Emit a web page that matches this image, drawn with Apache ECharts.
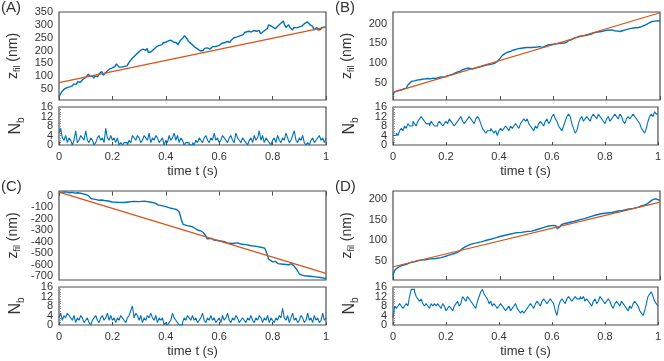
<!DOCTYPE html>
<html>
<head>
<meta charset="utf-8">
<script src="https://cdn.jsdelivr.net/npm/echarts@6/dist/echarts.min.js"></script>
<style>
  html, body { margin: 0; padding: 0; background: #fff; }
  #chart { width: 664px; height: 361px; }
</style>
</head>
<body>
<div id="chart"></div>
<script>
// filament tip position z_fil (nm) over time, per panel
const tA = [0,0.005,0.01,0.015,0.02,0.025,0.03,0.035,0.04,0.045,0.05,0.055,0.06,0.065,0.07,0.075,0.08,0.085,0.09,0.095,0.1,0.105,0.11,0.115,0.12,0.125,0.13,0.135,0.14,0.145,0.15,0.155,0.16,0.165,0.17,0.175,0.18,0.185,0.19,0.195,0.2,0.205,0.21,0.215,0.22,0.225,0.23,0.235,0.24,0.245,0.25,0.255,0.26,0.265,0.27,0.275,0.28,0.285,0.29,0.295,0.3,0.305,0.31,0.315,0.32,0.325,0.33,0.335,0.34,0.345,0.35,0.355,0.36,0.365,0.37,0.375,0.38,0.385,0.39,0.395,0.4,0.41,0.415,0.42,0.425,0.43,0.435,0.44,0.445,0.45,0.455,0.46,0.465,0.47,0.475,0.48,0.485,0.49,0.5,0.505,0.51,0.515,0.52,0.525,0.53,0.535,0.54,0.545,0.55,0.555,0.56,0.565,0.57,0.575,0.58,0.585,0.59,0.6,0.61,0.615,0.62,0.63,0.64,0.645,0.65,0.655,0.66,0.665,0.67,0.68,0.69,0.695,0.7,0.71,0.72,0.73,0.74,0.745,0.75,0.755,0.76,0.77,0.78,0.785,0.79,0.795,0.8,0.81,0.815,0.82,0.825,0.83,0.835,0.84,0.845,0.85,0.855,0.86,0.865,0.87,0.875,0.88,0.885,0.89,0.9,0.905,0.91,0.915,0.92,0.925,0.93,0.935,0.94,0.945,0.95,0.955,0.96,0.965,0.97,0.975,0.98,0.985,0.99,1];
const zA = [20,30,38,45,50,48,55,60,58,65,62,70,72,68,78,80,76,82,88,85,95,100,108,98,96,102,92,100,105,98,108,112,118,104,100,112,120,118,128,130,132,128,138,148,145,135,140,135,142,138,145,140,150,158,162,170,172,180,185,190,195,200,195,205,198,200,208,192,188,195,200,205,210,215,212,220,225,222,230,228,232,238,235,240,236,232,238,230,222,228,240,245,250,258,262,245,235,230,222,218,212,215,205,200,198,205,200,208,205,210,212,205,212,215,208,215,218,220,228,222,230,235,232,240,245,250,255,252,258,258,262,270,268,275,272,278,275,280,278,265,268,278,285,300,305,295,288,285,292,295,290,305,312,315,300,290,295,300,290,285,280,290,285,288,292,298,295,300,305,310,312,305,300,302,295,280,275,290,280,285,282,290,288,292];

const tB = [0,0.005,0.01,0.02,0.03,0.04,0.05,0.055,0.06,0.07,0.08,0.09,0.1,0.11,0.12,0.13,0.14,0.15,0.16,0.17,0.18,0.19,0.2,0.21,0.22,0.23,0.24,0.25,0.26,0.27,0.28,0.29,0.3,0.31,0.32,0.33,0.34,0.35,0.36,0.37,0.38,0.39,0.4,0.41,0.42,0.43,0.44,0.45,0.46,0.47,0.48,0.5,0.52,0.54,0.55,0.56,0.57,0.58,0.6,0.62,0.64,0.65,0.66,0.67,0.68,0.69,0.7,0.72,0.74,0.75,0.76,0.78,0.8,0.82,0.83,0.84,0.85,0.86,0.87,0.88,0.9,0.92,0.93,0.94,0.95,0.96,0.97,0.98,1];
const zB = [20,28,30,32,33,36,38,45,50,55,56,58,59,60,61,62,61,63,62,64,66,65,68,70,72,75,78,80,84,86,88,87,86,88,90,92,94,96,97,98,100,104,112,120,125,128,130,133,135,137,138,140,140,141,142,140,143,146,148,150,151,153,158,160,164,166,168,170,173,176,178,180,183,184,182,181,180,182,184,186,189,190,192,195,198,202,205,206,207];

const tC = [0,0.01,0.02,0.03,0.04,0.05,0.06,0.07,0.08,0.09,0.1,0.11,0.115,0.12,0.13,0.14,0.15,0.16,0.17,0.18,0.2,0.22,0.24,0.26,0.28,0.3,0.32,0.34,0.36,0.37,0.38,0.4,0.42,0.43,0.44,0.45,0.455,0.46,0.465,0.47,0.48,0.5,0.51,0.52,0.53,0.54,0.55,0.555,0.56,0.57,0.58,0.6,0.62,0.63,0.65,0.67,0.68,0.7,0.72,0.74,0.76,0.77,0.775,0.78,0.785,0.79,0.8,0.81,0.82,0.84,0.86,0.87,0.88,0.89,0.9,0.91,0.92,0.94,0.96,0.98,1];
const zC = [30,28,32,30,25,28,22,25,20,15,10,0,-10,-25,-30,-35,-40,-38,-42,-45,-55,-58,-60,-55,-50,-52,-48,-55,-65,-80,-85,-95,-110,-115,-120,-140,-180,-220,-250,-255,-260,-270,-285,-300,-305,-320,-350,-375,-380,-372,-385,-392,-400,-410,-415,-410,-420,-425,-435,-440,-450,-455,-480,-510,-550,-560,-575,-570,-590,-595,-600,-590,-610,-640,-680,-690,-695,-700,-705,-710,-720];

const tD = [0,0.005,0.01,0.02,0.03,0.04,0.05,0.06,0.07,0.08,0.09,0.1,0.12,0.14,0.16,0.18,0.19,0.2,0.21,0.22,0.23,0.24,0.25,0.26,0.27,0.28,0.29,0.3,0.31,0.32,0.33,0.34,0.35,0.37,0.38,0.39,0.4,0.42,0.44,0.46,0.48,0.5,0.52,0.54,0.56,0.58,0.6,0.61,0.615,0.62,0.625,0.63,0.64,0.66,0.68,0.7,0.72,0.74,0.76,0.78,0.8,0.82,0.84,0.86,0.88,0.9,0.92,0.93,0.94,0.95,0.96,0.97,0.98,0.99,1];
const zD = [15,25,30,35,38,40,42,45,47,48,50,52,53,55,56,58,60,62,64,66,68,70,74,80,84,87,90,92,93,95,96,98,100,103,105,107,109,112,115,118,119,121,122,126,130,134,136,135,128,126,132,137,140,143,146,150,153,157,161,164,166,167,170,172,175,177,180,183,185,187,192,197,200,199,196];

// linear fits: value at t=0 and t=1
const fitT = [0, 1];
const fitA = [75, 291];
const fitB = [27, 227];
const fitC = [30, -675];
const fitD = [36, 192];

// number of bound motors N_b, evenly sampled over 0..1 s
const nbA = [5,7,3,2,4,1,3,2,0,2,6,1,2,4,3,2,6,2,1,3,2,0,1,3,4,2,3,1,7,3,2,4,2,3,1,3,0,1,0,1,1,0,2,1,4,3,2,4,3,1,2,4,3,2,5,1,3,2,4,3,1,2,3,0,2,1,4,2,3,5,2,4,1,3,2,0,1,1,0,0,1,0,2,1,3,2,1,3,4,2,1,3,2,5,2,3,1,2,4,3,2,1,3,4,2,1,5,3,2,1,3,2,1,0,2,3,1,4,2,3,6,2,4,1,3,2,1,0,2,3,1,4,2,1,3,2,5,3,1,2,4,6,2,1,3,2,4,1,0,1,0,2,3,1,2,3,4,2,3,1,3];
const nbB = [4,4,5,4,6,7,6,8,7,9,8,8,10,9,8,10,11,12,11,10,9,9,8,10,9,8,8,9,10,9,8,9,10,9,11,10,9,8,9,10,11,12,10,9,10,11,12,11,10,9,11,12,11,9,7,6,5,6,6,7,6,5,6,4,6,7,6,7,8,7,6,8,7,8,9,8,7,9,10,11,10,11,9,8,7,6,8,7,9,10,9,8,10,11,9,10,12,13,11,10,8,7,6,8,10,12,13,12,9,7,5,6,9,11,12,10,11,12,11,10,12,13,12,11,13,12,11,10,9,11,12,10,11,12,13,12,11,13,12,10,9,11,12,11,12,13,12,11,10,9,7,6,5,7,10,12,13,12,14,13,13];
const nbC = [3,5,2,4,3,5,4,3,2,4,1,3,2,4,3,1,2,3,1,0,2,3,4,2,1,3,4,2,3,5,2,4,2,3,1,3,2,4,3,2,1,3,4,6,8,3,5,4,2,4,1,3,2,4,3,5,3,2,4,1,3,2,3,0,1,0,1,2,5,3,2,1,0,0,1,3,2,4,3,2,4,2,3,1,2,3,5,2,1,3,2,4,2,3,1,2,3,1,4,2,3,5,2,1,3,2,4,3,1,2,3,2,1,3,2,4,2,1,3,2,4,3,1,3,2,4,1,3,2,1,3,2,4,3,7,3,2,4,1,3,5,2,3,1,2,4,3,1,2,5,2,3,1,4,2,3,1,2,5,2,3];
const nbD = [3,8,7,8,9,8,7,8,9,8,12,15,15,14,12,11,10,11,9,8,9,8,7,9,8,9,8,9,8,7,9,8,6,7,8,7,6,8,9,10,8,9,12,11,10,12,11,10,9,8,7,10,12,14,15,13,12,11,9,10,8,9,8,7,8,9,8,7,6,7,8,6,7,8,9,7,6,5,6,5,6,7,8,9,8,7,9,10,9,8,10,11,10,9,10,11,10,9,6,4,8,10,11,10,9,11,12,11,10,11,12,11,11,12,11,12,10,11,10,9,8,10,11,9,10,12,11,10,9,10,11,10,8,7,9,10,9,8,10,9,8,7,6,8,7,9,10,9,8,6,5,4,6,9,12,13,14,12,10,9,8];

// tick labels (N_b labels split in two sets so none gets culled)
const timeTicks = [0, 0.2, 0.4, 0.6, 0.8, 1];
const zTicksA = [50, 100, 150, 200, 250, 300, 350];
const zTicksB = [50, 100, 150, 200];
const zTicksC = [0, -100, -200, -300, -400, -500, -600, -700];
const zTicksD = [50, 100, 150, 200];
const nbTicksEven = [0, 8, 16];
const nbTicksOdd = [4, 12];
const nbTickMarks = [0, 1, 2, 3, 4, 5, 6, 7, 8, 9, 10, 11, 12, 13, 14, 15, 16];

const BLUE = '#0072bd';
const ORANGE = '#d95319';
const FRAME = '#4d4d4d';
const TXT = '#333';
const FONT = 'Liberation Sans, Arial, sans-serif';

const panels = [
  { tag: '(A)', x: 59, y: 12, h: 88, t: tA, z: zA, fit: fitA, nb: nbA, zMin: 7, zMax: 350, zTicks: zTicksA },
  { tag: '(B)', x: 393, y: 12, h: 88, t: tB, z: zB, fit: fitB, nb: nbB, zMin: 8, zMax: 229, zTicks: zTicksB },
  { tag: '(C)', x: 59, y: 191, h: 89, t: tC, z: zC, fit: fitC, nb: nbC, zMin: -732, zMax: 40, zTicks: zTicksC },
  { tag: '(D)', x: 393, y: 191, h: 89, t: tD, z: zD, fit: fitD, nb: nbD, zMin: 4, zMax: 219, zTicks: zTicksD }
];

const W = 267;
const grid = [], xAxis = [], yAxis = [], series = [], graphic = [];

const nameRich = {
  m: { fontSize: 14, fontFamily: FONT, color: TXT },
  s: { fontSize: 9, fontFamily: FONT, color: TXT, padding: [9, 0, 0, 0] },
  n: { fontSize: 16, fontFamily: FONT, color: TXT },
  b: { fontSize: 10, fontFamily: FONT, color: TXT, padding: [10, 0, 0, 0] }
};

const labelStyle = { fontSize: 11, color: TXT, fontFamily: FONT, margin: 6, showMinLabel: true, showMaxLabel: true };

panels.forEach((p, k) => {
  const gi = k * 2;
  const nbTop = p.y + p.h + 7;
  grid.push({ left: p.x, top: p.y, width: W, height: p.h, show: true, borderColor: FRAME, borderWidth: 1.2 });
  grid.push({ left: p.x, top: nbTop, width: W, height: 38, show: true, borderColor: FRAME, borderWidth: 1.2 });

  // top: z_fil
  xAxis.push({
    type: 'value', gridIndex: gi, min: 0, max: 1,
    axisLine: { show: false }, axisLabel: { show: false, customValues: timeTicks },
    axisTick: { show: true, inside: true, length: 4, customValues: timeTicks, lineStyle: { color: FRAME } },
    splitLine: { show: false }
  });
  const zIdx = yAxis.length;
  yAxis.push({
    type: 'value', gridIndex: gi, min: p.zMin, max: p.zMax,
    name: '{m|z}{s|fil}{m| (nm)}', nameLocation: 'middle', nameGap: 37,
    nameTextStyle: { rich: nameRich },
    axisLine: { show: false },
    axisTick: { show: false, customValues: p.zTicks },
    axisLabel: Object.assign({ customValues: p.zTicks }, labelStyle),
    splitLine: { show: false }
  });

  // bottom: N_b
  xAxis.push({
    type: 'value', gridIndex: gi + 1, min: 0, max: 1,
    name: 'time t (s)', nameLocation: 'middle', nameGap: 20,
    nameTextStyle: { fontSize: 13, color: TXT, fontFamily: FONT },
    axisLine: { show: false },
    axisTick: { show: true, inside: true, length: 3, customValues: timeTicks, lineStyle: { color: FRAME } },
    axisLabel: Object.assign({ customValues: timeTicks }, labelStyle),
    splitLine: { show: false }
  });
  const nbIdx = yAxis.length;
  yAxis.push({
    type: 'value', gridIndex: gi + 1, min: 0, max: 16,
    name: '{n|N}{b|b}', nameLocation: 'middle', nameGap: 33,
    nameTextStyle: { rich: nameRich },
    axisLine: { show: false },
    axisTick: { show: true, inside: true, length: 2, customValues: nbTickMarks, lineStyle: { color: '#999' } },
    axisLabel: Object.assign({ customValues: nbTicksEven }, labelStyle),
    splitLine: { show: false }
  });
  yAxis.push({
    type: 'value', gridIndex: gi + 1, min: 0, max: 16, position: 'left', offset: 0,
    axisLine: { show: false }, axisTick: { show: false, customValues: nbTicksOdd },
    axisLabel: Object.assign({ customValues: nbTicksOdd }, labelStyle),
    splitLine: { show: false }
  });

  series.push({
    type: 'line', xAxisIndex: gi, yAxisIndex: zIdx, showSymbol: false, animation: false,
    data: p.t.map((t, i) => [t, p.z[i]]),
    lineStyle: { color: BLUE, width: 1.4 }, itemStyle: { color: BLUE }
  });
  series.push({
    type: 'line', xAxisIndex: gi, yAxisIndex: zIdx, showSymbol: false, animation: false,
    data: fitT.map((t, i) => [t, p.fit[i]]),
    lineStyle: { color: ORANGE, width: 1.2 }, itemStyle: { color: ORANGE }
  });
  series.push({
    type: 'line', xAxisIndex: gi + 1, yAxisIndex: nbIdx, showSymbol: false, animation: false,
    step: 'end',
    data: p.nb.map((v, i) => [i / (p.nb.length - 1), v]),
    lineStyle: { color: BLUE, width: 1.1 }, itemStyle: { color: BLUE }
  });

  graphic.push({
    type: 'text', left: p.x - 58, top: p.y - 12,
    style: { text: p.tag, fontSize: 15, fill: TXT, fontFamily: FONT }
  });
});

const chart = echarts.init(document.getElementById('chart'));
chart.setOption({
  animation: false,
  grid, xAxis, yAxis, series, graphic
});
</script>
</body>
</html>
